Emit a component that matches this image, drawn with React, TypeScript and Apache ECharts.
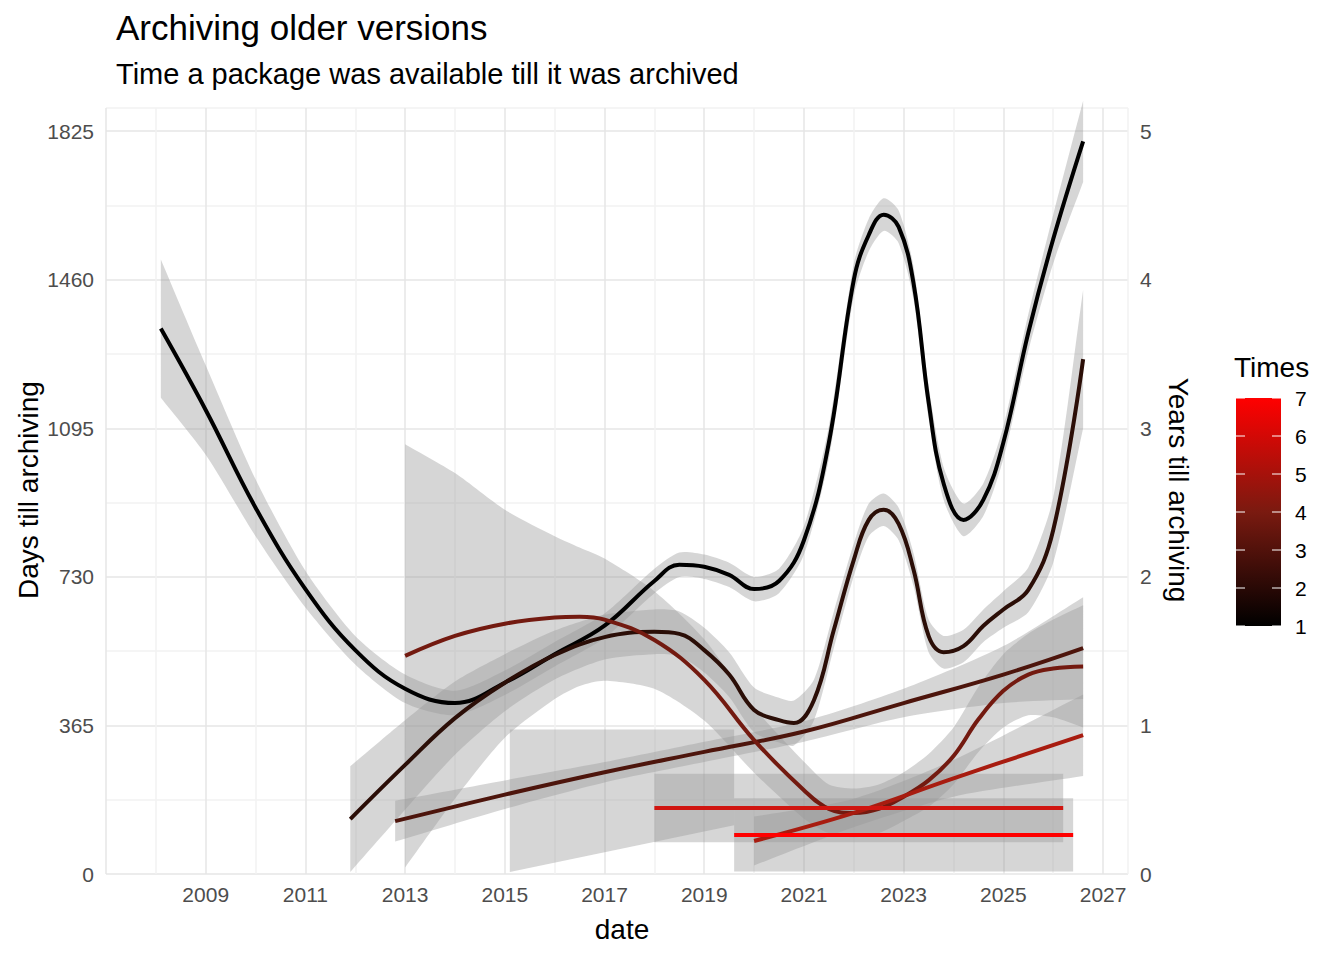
import React, { useEffect, useRef } from "react";
import * as echarts from "echarts";

// smooth lines per "Times" group: x in decimal years, days, ribbon half-width
const xs1 = [2008.1, 2009, 2010, 2011, 2012, 2013, 2014, 2015, 2016, 2017, 2018, 2018.5, 2019, 2019.5, 2020, 2020.5, 2021, 2021.5, 2022, 2022.3, 2022.6, 2022.9, 2023.2, 2023.5, 2023.8, 2024.2, 2024.6, 2025, 2025.5, 2026, 2026.6];
const days1 = [1340, 1140, 900, 700, 550, 455, 420, 470, 540, 610, 720, 760, 755, 735, 700, 720, 820, 1060, 1460, 1570, 1620, 1590, 1450, 1160, 960, 870, 920, 1060, 1330, 1560, 1800];
const hw1 = [170, 110, 70, 45, 35, 35, 30, 30, 30, 30, 30, 30, 30, 30, 30, 30, 35, 40, 40, 40, 40, 40, 40, 40, 40, 40, 40, 40, 45, 60, 100];

const xs2 = [2011.9, 2013, 2014, 2015, 2016, 2017, 2018, 2018.5, 2019, 2019.5, 2020, 2020.5, 2020.8, 2021.2, 2021.6, 2022, 2022.3, 2022.6, 2022.9, 2023.2, 2023.5, 2023.8, 2024.2, 2024.6, 2025, 2025.5, 2026, 2026.6];
const days2 = [135, 268, 383, 470, 538, 582, 595, 590, 550, 490, 403, 378, 371, 427, 600, 772, 870, 895, 860, 747, 585, 545, 560, 610, 650, 698, 845, 1265];
const hw2 = [130, 110, 90, 70, 60, 55, 55, 55, 55, 55, 55, 55, 55, 50, 45, 40, 40, 40, 40, 40, 40, 40, 40, 40, 45, 55, 80, 170];

const xs3 = [2012.8, 2015, 2017, 2019, 2021, 2023, 2025, 2026.6];
const days3 = [130, 195, 250, 300, 350, 420, 490, 555];
const hw3 = [50, 35, 25, 25, 25, 35, 70, 125];

const xs4 = [2013, 2014, 2015, 2016, 2016.5, 2017, 2018, 2019, 2020, 2021, 2021.5, 2022, 2022.5, 2023, 2023.5, 2024, 2024.5, 2025, 2025.5, 2026, 2026.6];
const days4 = [536, 585, 615, 630, 632, 625, 575, 477, 329, 206, 160, 150, 160, 190, 230, 290, 380, 450, 490, 505, 510];
const hw4 = [520, 400, 280, 200, 170, 150, 120, 100, 80, 70, 60, 60, 60, 60, 65, 70, 80, 90, 100, 120, 150];

const xs5 = [2020, 2022, 2024, 2026.6];
const days5 = [81, 150, 235, 341];
const hw5 = [60, 35, 45, 100];

const xs6 = [2018, 2026.2];
const days6 = [162, 162];
const hw6 = [84, 84];

const xs7 = [2019.6, 2026.4];
const days7 = [96, 96];
const hw7 = [90, 90];

// flat ribbon without a visible line (2015 onwards)
const xsExtra = [2015.1, 2019.6];
const loExtra = [5, 120];
const hiExtra = [355, 355];

const groups = [
  { x: xs1, y: days1, hw: hw1, color: "#000000" },
  { x: xs2, y: days2, hw: hw2, color: "#2b0e07" },
  { x: xs3, y: days3, hw: hw3, color: "#4d150c" },
  { x: xs4, y: days4, hw: hw4, color: "#731a10" },
  { x: xs5, y: days5, hw: hw5, color: "#a81c10" },
  { x: xs6, y: days6, hw: hw6, color: "#d01510" },
  { x: xs7, y: days7, hw: hw7, color: "#ff0000" },
];

const timesLabels = ["1", "2", "3", "4", "5", "6", "7"];

const FONT = "Liberation Sans";

const bandOf = (g: { x: number[]; y: number[]; hw: number[] }) => ({
  x: g.x,
  lo: g.y.map((v, k) => Math.max(0, v - g.hw[k])),
  hi: g.y.map((v, k) => v + g.hw[k]),
});

const bandSeries = (b: { x: number[]; lo: number[]; hi: number[] }) => ({
  type: "custom",
  data: [[0]],
  silent: true,
  renderItem: (params: any, api: any) => {
    const upper = b.x.map((x, k) => api.coord([x, b.hi[k]]));
    const lower = b.x.map((x, k) => api.coord([x, b.lo[k]])).reverse();
    const smooth = b.x.length > 2;
    // repeat the end points so the smoothing keeps the ribbon ends square
    const pts = smooth
      ? [upper[0], ...upper, upper[upper.length - 1], lower[0], ...lower, lower[lower.length - 1]]
      : [...upper, ...lower];
    return {
      type: "polygon",
      shape: { points: pts, smooth: smooth ? 0.25 : 0 },
      style: { fill: "rgba(153,153,153,0.4)" },
    };
  },
});

const App: React.FC = () => {
  const chartRef = useRef<HTMLDivElement>(null);

  useEffect(() => {
    if (!chartRef.current) return;
    const myChart = echarts.init(chartRef.current, null, { renderer: "svg" });

    const series: any[] = [];
    groups.forEach((g, i) => {
      if (i === 4) series.push(bandSeries({ x: xsExtra, lo: loExtra, hi: hiExtra }));
      series.push(bandSeries(bandOf(g)));
      series.push({
        type: "line",
        data: g.x.map((x, k) => [x, g.y[k]]),
        smooth: g.x.length > 2 ? 0.4 : false,
        symbol: "none",
        lineStyle: { color: g.color, width: 4 },
      });
    });

    const tickCount = timesLabels.length;
    const barTop = 398;
    const barBottom = 626;
    const step = (barBottom - barTop) / (tickCount - 1);

    const option = {
      animation: false,
      grid: { left: 106, right: 216, top: 108, bottom: 86 },
      xAxis: {
        type: "value",
        min: 2007,
        max: 2027.5,
        interval: 1,
        axisLine: { show: false },
        axisTick: { show: false },
        axisLabel: {
          color: "#4d4d4d",
          fontSize: 21,
          fontFamily: FONT,
          margin: 10,
          showMaxLabel: false,
          formatter: (v: number) => {
            const r = Math.round(v);
            return r % 2 === 1 && r >= 2009 ? String(r) : "";
          },
        },
        splitLine: { lineStyle: { color: ["#e6e6e6", "#f2f2f2"], width: 1.5 } },
      },
      yAxis: [
        {
          type: "value",
          min: 0,
          max: 1882,
          interval: 182.5,
          axisLine: { show: false },
          axisTick: { show: false },
          axisLabel: {
            color: "#4d4d4d",
            fontSize: 21,
            fontFamily: FONT,
            margin: 12,
            showMaxLabel: false,
            formatter: (v: number) => (Math.round(v) % 365 === 0 ? String(Math.round(v)) : ""),
          },
          splitLine: { lineStyle: { color: ["#e6e6e6", "#f2f2f2"], width: 1.5 } },
        },
        {
          type: "value",
          min: 0,
          max: 1882 / 365,
          interval: 1,
          position: "right",
          axisLine: { show: false },
          axisTick: { show: false },
          splitLine: { show: false },
          axisLabel: { color: "#4d4d4d", fontSize: 21, fontFamily: FONT, margin: 12, showMaxLabel: false },
        },
      ],
      series,
      graphic: [
        { type: "text", left: 116, top: 10, style: { text: "Archiving older versions", fontSize: 35, fontFamily: FONT, fill: "#000" } },
        { type: "text", left: 116, top: 59, style: { text: "Time a package was available till it was archived", fontSize: 29, fontFamily: FONT, fill: "#000" } },
        { type: "text", x: 622, y: 929, style: { text: "date", fontSize: 28, fontFamily: FONT, fill: "#000", align: "center", verticalAlign: "middle" } },
        { type: "text", x: 28, y: 490, rotation: Math.PI / 2, style: { text: "Days till archiving", fontSize: 28, fontFamily: FONT, fill: "#000", align: "center", verticalAlign: "middle" } },
        { type: "text", x: 1178, y: 490, rotation: -Math.PI / 2, style: { text: "Years till archiving", fontSize: 28, fontFamily: FONT, fill: "#000", align: "center", verticalAlign: "middle" } },
        { type: "text", left: 1234, top: 353, style: { text: "Times", fontSize: 28, fontFamily: FONT, fill: "#000" } },
        {
          type: "rect",
          shape: { x: 1236, y: barTop, width: 45, height: barBottom - barTop },
          style: {
            fill: new echarts.graphic.LinearGradient(0, 0, 0, 1, [
              { offset: 0, color: "#ff0000" },
              { offset: 0.5, color: "#7a1a10" },
              { offset: 1, color: "#000000" },
            ]),
          },
        },
        ...timesLabels.map((t, k) => {
          const y = barBottom - k * step;
          return {
            type: "group",
            children: [
              { type: "line", shape: { x1: 1236, y1: y, x2: 1245, y2: y }, style: { stroke: "#fff", lineWidth: 1 } },
              { type: "line", shape: { x1: 1272, y1: y, x2: 1281, y2: y }, style: { stroke: "#fff", lineWidth: 1 } },
              { type: "text", x: 1295, y, style: { text: t, fontSize: 21, fontFamily: FONT, fill: "#000", verticalAlign: "middle" } },
            ],
          };
        }),
      ],
    };

    myChart.setOption(option);
    return () => {
      myChart.dispose();
    };
  }, []);

  return <div ref={chartRef} style={{ width: "1344px", height: "960px", margin: "-8px" }} />;
};

export default App;
